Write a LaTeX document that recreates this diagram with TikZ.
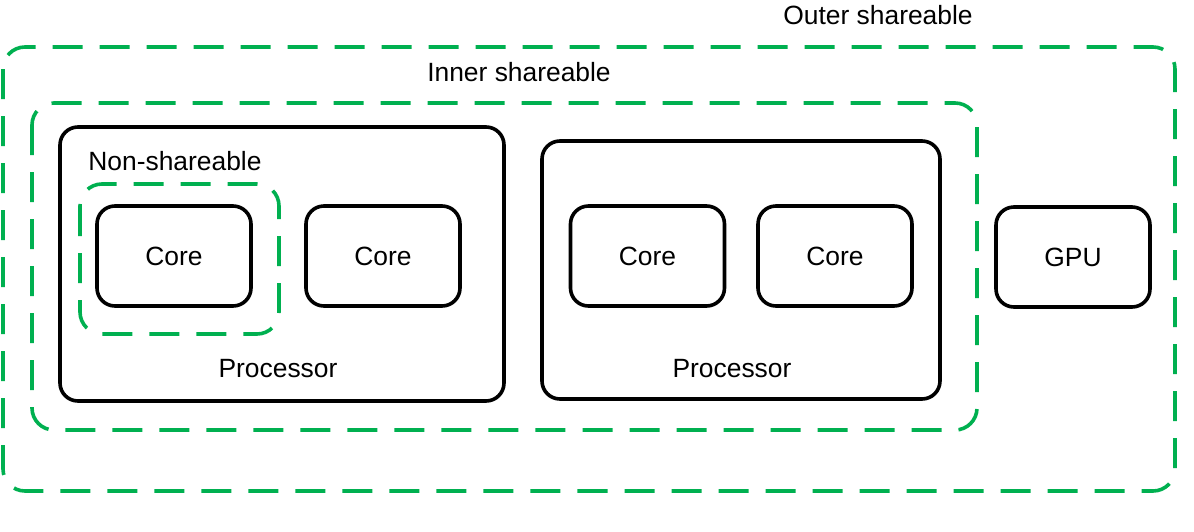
\documentclass[tikz,border=0pt]{standalone}
\usepackage{fontspec}
\setmainfont{Liberation Sans}
\usepackage{xcolor}
\usetikzlibrary{positioning,calc}
\definecolor{sharegreen}{HTML}{00B050}
\tikzset{
  unitbox/.style={draw, line width=1.8pt, rounded corners=9pt, minimum width=77pt, minimum height=50pt, inner sep=0pt, font=\fontsize{13.2}{15}\selectfont},
  sharezone/.style={draw=sharegreen, line width=1.8pt, dash pattern=on 15pt off 8.5pt, rounded corners=11pt},
  procbox/.style={draw, line width=1.8pt, rounded corners=9pt},
  lbl/.style={font=\fontsize{13.2}{15}\selectfont, inner sep=0pt}
}
\begin{document}
\begin{tikzpicture}[x=0.5pt, y=-0.5pt]
			\useasboundingbox (0,0) rectangle (1194,531);
			% shareability zones
			\draw[sharezone] (3,47) rectangle (1175,491);
			\draw[sharezone] (32,103) rectangle (977,430);
			\node[lbl] (outerlbl) at (878,15) {Outer shareable};
			\node[lbl] (innerlbl) at (519,72) {Inner shareable};
			% processors
			\draw[procbox] (60,127) rectangle (504,401);
			\draw[procbox] (542,141) rectangle (940,399);
			\node[lbl] (proc1) at (278,369) {Processor};
			\node[lbl] (proc2) at (732,369) {Processor};
			\draw[sharezone] (80,184) rectangle (279,334);
			\node[lbl, anchor=west] (nonlbl) at (88,161) {Non-shareable};
			% cores and gpu
			\node[unitbox] (core1) at (174,256) {Core};
			\node[unitbox] (core2) at (383,256) {Core};
			\node[unitbox] (core3) at (647.5,256) {Core};
			\node[unitbox] (core4) at (835,256) {Core};
			\node[unitbox] (gpu) at (1073,257) {GPU};
		\end{tikzpicture}
\end{document}
